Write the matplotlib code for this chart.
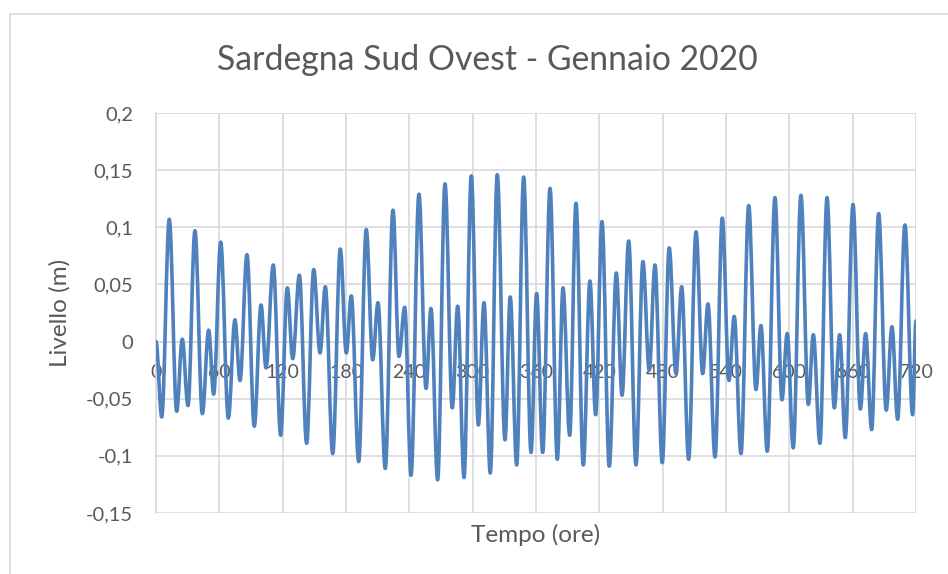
import matplotlib
matplotlib.use("Agg")
import matplotlib.pyplot as plt
from matplotlib.path import Path
from matplotlib.patches import PathPatch, Rectangle
from matplotlib.ticker import FuncFormatter

# Times (hours) of the start, each high / low water and the end
times = [0, 5.4, 12.6, 19.6, 24.9, 30.3, 36.9, 43.9, 49.9, 54.6, 61.3, 68.5, 74.8, 79.6,
         86.2, 93.1, 99.5, 104.2, 111.1, 118.1, 124.4, 129.5, 135.8, 142.7, 149.4, 155.4,
         160.4, 167.4, 174.6, 180.3, 185.0, 192.0, 199.2, 205.3, 210.3, 217.2, 224.5, 230.2,
         235.6, 241.6, 249.1, 255.8, 260.5, 266.8, 273.8, 280.7, 285.8, 291.8, 298.7, 305.4,
         310.7, 316.7, 323.3, 330.6, 335.6, 341.7, 348.3, 355.3, 360.6, 366.3, 373.3, 380.2,
         385.6, 391.9, 397.9, 404.8, 411.1, 416.5, 422.5, 429.4, 436.1, 441.5, 447.8, 454.7,
         461.3, 467.3, 472.7, 479.6, 486.2, 492.6, 498.0, 504.6, 511.6, 517.9, 522.9, 529.6,
         536.5, 542.8, 547.8, 554.2, 561.5, 568.4, 573.1, 579.1, 586.4, 593.0, 598.0, 603.7,
         611.0, 618.0, 622.7, 629.0, 635.7, 642.6, 647.7, 653.0, 660.3, 667.3, 672.3, 678.0,
         684.6, 691.8, 697.2, 702.6, 709.5, 716.8, 720]
# Levels (m) at those times
levels = [0.0, -0.066, 0.107, -0.061, 0.002, -0.056, 0.097, -0.063, 0.010, -0.046, 0.087,
          -0.067, 0.019, -0.034, 0.076, -0.074, 0.032, -0.023, 0.067, -0.082, 0.047, -0.015,
          0.058, -0.089, 0.063, -0.010, 0.048, -0.098, 0.081, -0.010, 0.040, -0.105, 0.098,
          -0.016, 0.034, -0.111, 0.115, -0.013, 0.030, -0.117, 0.129, -0.041, 0.029, -0.121,
          0.138, -0.058, 0.031, -0.119, 0.145, -0.073, 0.034, -0.115, 0.146, -0.086, 0.039,
          -0.108, 0.144, -0.097, 0.042, -0.097, 0.134, -0.103, 0.047, -0.082, 0.121, -0.108,
          0.053, -0.064, 0.105, -0.109, 0.060, -0.047, 0.088, -0.108, 0.070, -0.025, 0.067,
          -0.106, 0.082, -0.028, 0.048, -0.103, 0.096, -0.028, 0.033, -0.101, 0.108, -0.034,
          0.022, -0.098, 0.119, -0.042, 0.014, -0.096, 0.126, -0.051, 0.007, -0.093, 0.128,
          -0.055, 0.006, -0.089, 0.126, -0.058, 0.006, -0.084, 0.120, -0.059, 0.007, -0.077,
          0.112, -0.060, 0.013, -0.068, 0.102, -0.064, 0.018]

x_ticks = [0, 60, 120, 180, 240, 300, 360, 420, 480, 540, 600, 660, 720]
y_ticks = [-0.15, -0.1, -0.05, 0, 0.05, 0.1, 0.15, 0.2]
title = "Sardegna Sud Ovest - Gennaio 2020"
xlabel = "Tempo (ore)"
ylabel = "Livello (m)"

plt.rcParams['font.family'] = ['Lato', 'DejaVu Sans']
TXT = '#595959'
GRID = '#D9D9D9'
LINE = '#4F81BD'

fig = plt.figure(figsize=(9.48, 5.74), dpi=100)
fig.patches.append(Rectangle((10 / 948, -0.1), 1.2, 1.1 - 14 / 574,
                             transform=fig.transFigure, fill=False,
                             edgecolor=GRID, linewidth=1.2))
ax = fig.add_axes([156 / 948, 1 - 513 / 574, 760 / 948, 400 / 574])

# smooth curve through the read extrema (horizontal tangents at extrema)
verts = [(times[0], levels[0])]
codes = [Path.MOVETO]
k = 0.36
for i in range(len(times) - 1):
    t0, v0, t1, v1 = times[i], levels[i], times[i + 1], levels[i + 1]
    dt = t1 - t0
    verts += [(t0 + k * dt, v0), (t1 - k * dt, v1), (t1, v1)]
    codes += [Path.CURVE4] * 3
ax.add_patch(PathPatch(Path(verts, codes), fill=False, edgecolor=LINE,
                       linewidth=2.6, capstyle='round', joinstyle='round', zorder=3))

ax.set_xlim(0, 720)
ax.set_ylim(-0.15, 0.2)
ax.set_xticks(x_ticks)
ax.set_yticks(y_ticks)
ax.grid(True, color=GRID, linewidth=1.2)
ax.set_axisbelow(True)
for s in ['top', 'right', 'bottom']:
    ax.spines[s].set_visible(False)
ax.spines['left'].set_color(GRID)
ax.spines['left'].set_linewidth(1.2)
ax.axhline(0, color=GRID, linewidth=1.2, zorder=1)

def yfmt(v, pos):
    s = ('%.2f' % v).rstrip('0').rstrip('.')
    if s in ('-0', ''):
        s = '0'
    return s.replace('.', ',')

ax.yaxis.set_major_formatter(FuncFormatter(yfmt))
ax.tick_params(axis='both', length=0, labelsize=14.5, labelcolor=TXT)
ax.tick_params(axis='y', pad=16.5)
ax.set_xticklabels([])
# x tick labels sit just below the zero line (axis crosses at 0)
for t in x_ticks:
    ax.text(t, -0.027, str(t), ha='center', va='center', fontsize=14,
            color=TXT, transform=ax.transData, zorder=2)

ax.set_xlabel(xlabel, fontsize=17.5, color=TXT)
ax.xaxis.set_label_coords(0.5, -0.028)
ax.set_ylabel(ylabel, fontsize=17.5, color=TXT)
ax.yaxis.set_label_coords(-0.112, 0.5)
fig.text(487 / 948, 1 - 60 / 574, title, ha='center', va='center',
         fontsize=24.3, color=TXT)

fig.savefig('out.png', dpi=100)
